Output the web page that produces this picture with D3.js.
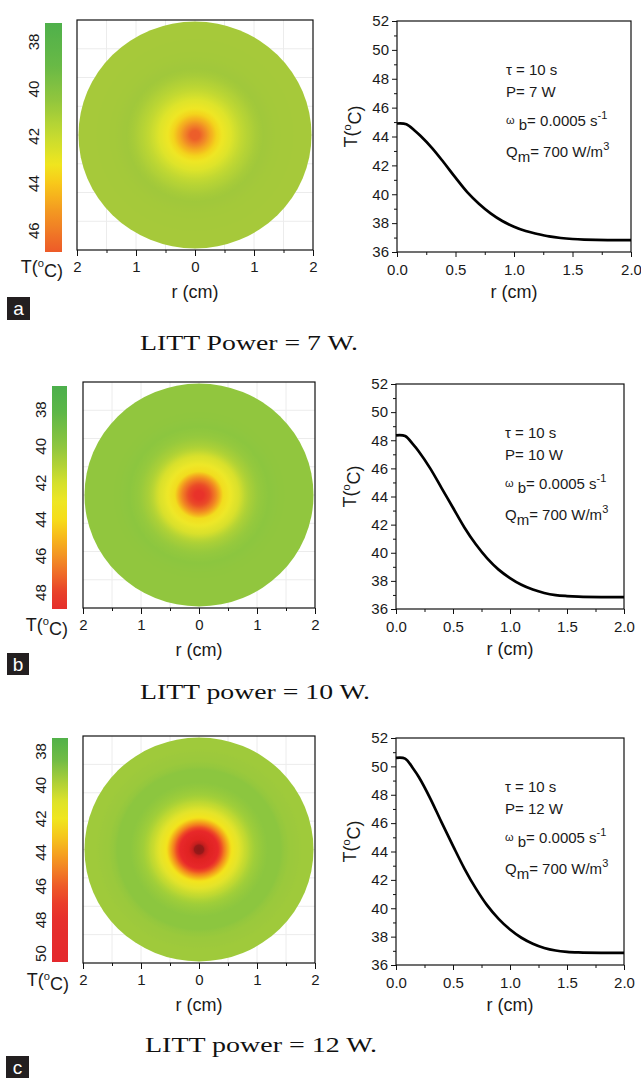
<!DOCTYPE html>
<html><head><meta charset="utf-8">
<script src="https://cdn.jsdelivr.net/npm/d3@7"></script>
<style>
body{margin:0;background:#fff}
svg{display:block}
text{font-family:"Liberation Sans",Arial,sans-serif;fill:#1a1a1a}
text.cap{font-family:"Liberation Serif","Times New Roman",serif;fill:#111}
</style>
</head><body>
<svg id="chart" width="641" height="1078"></svg>
<script>
// ---------- data ----------
const radiusCm = [0,0.08,0.15,0.2,0.3,0.4,0.5,0.6,0.7,0.8,0.9,1.0,1.1,1.2,1.3,1.4,1.5,1.6,1.8,2.0];
const tempA = [44.9,44.85,44.42,44.05,43.2,42.2,41.15,40.15,39.35,38.68,38.15,37.75,37.45,37.25,37.08,36.97,36.9,36.86,36.82,36.82];
const tempB = [48.35,48.3,47.7,47.2,46.0,44.6,43.2,41.8,40.6,39.6,38.8,38.2,37.72,37.38,37.14,36.99,36.92,36.88,36.85,36.85];
const tempC = [50.6,50.55,49.85,49.25,47.75,46.05,44.4,42.8,41.4,40.2,39.25,38.5,37.92,37.5,37.2,37.02,36.93,36.89,36.86,36.86];
const powerW = [7,10,12];
const captions = ["LITT Power = 7 W.","LITT power = 10 W.","LITT power = 12 W."];
const panelLetters = ["a","b","c"];
const lineXTicks = [0,0.5,1,1.5,2];
const lineXMinor = [0.25,0.75,1.25,1.75];
const lineYTicks = [36,38,40,42,44,46,48,50,52];
const lineYMinor = [37,39,41,43,45,47,49,51];
const mapXTicks = [-2,-1,0,1,2];
const mapXMinor = [-1.5,-0.5,0.5,1.5];
const mapGrid = [-1.5,-1,-0.5,0,0.5,1,1.5];
const barTicksA = [38,40,42,44,46];
const barTicksB = [38,40,42,44,46,48];
const barTicksC = [38,40,42,44,46,48,50];
const barRangeA = [37.2,46.9];
const barRangeB = [36.7,48.9];
const barRangeC = [37.2,50.5];

// ---------- colour maps (style) ----------
const barStopsA = [37.2,39,40.5,42,43.2,44,45,46,46.9];
const barColsA = ["#4fb04b","#68b946","#92c63d","#c6db30","#f0e61e","#f8c81a","#f49f20","#f07b26","#ed5a28"];
const barStopsB = [36.7,38,40,41,42,43,44,45,46,47,48,48.9];
const barColsB = ["#4caf4c","#5ab648","#8ec63e","#b0d236","#d4e02c","#eee624","#f6dd1a","#f7b81c","#f39324","#ef6a28","#e8402a","#e52e2c"];
const barStopsC = [37.2,38.5,40,41,42,43,44,45,46,47,48,50.5];
const barColsC = ["#52b14a","#70bc44","#b5d236","#dfe328","#f0e61e","#f5c81c","#f5a41f","#f28025","#ee5a28","#ea3e2a","#e62f2c","#e4282c"];
const diskStopsA = [36.8,37.3,38,39,40,41.5,42.5,43.5,44.3,44.9];
const diskColsA = ["#a6c93a","#a0c83b","#b2d136","#c8db30","#dee42a","#efe624","#f3d41c","#f4ab20","#f08228","#ec5c2a"];
const diskStopsB = [36.8,37.3,38,39.2,40.6,42.5,44.3,45.3,46.3,47.4,48.4];
const diskColsB = ["#92c63e","#8cc63f","#96c93d","#b0d236","#d8e02c","#eee828","#f2dc1e","#f4a81e","#f07a24","#ea4a28","#e8302a"];
const diskStopsC = [36.85,37.0,37.5,38.7,40,41.5,43.3,44.2,45.3,46.2,47.2,49.5,50.3,50.6];
const diskColsC = ["#a0ca3b","#8cc63f","#8cc63f","#a0ce39","#c4da30","#e4e42a","#f4e41c","#f4b81a","#f3801f","#ee4a26","#e8282a","#e02222","#c41e1e","#8e1818"];

// ---------- layout ----------
const layouts = [
  {mapX:[77,313],mapY:[250,20],barX:45,barW:17,barY:[23,252],lineX:[397,631],lineY:[252,21],capX:140,capY:350,capLen:218,box:[7,297,23,23]},
  {mapX:[83,315],mapY:[608,382],barX:52,barW:15,barY:[386,609],lineX:[396,624],lineY:[609,384],capX:140,capY:699,capLen:230,box:[7,653,22,22]},
  {mapX:[83,315],mapY:[963,736],barX:52,barW:16,barY:[738,962],lineX:[396,624],lineY:[965,738],capX:145,capY:1052,capLen:232,box:[6,1056,23,22]}
];
const temps = [tempA,tempB,tempC];
const barTicks = [barTicksA,barTicksB,barTicksC];
const barRanges = [barRangeA,barRangeB,barRangeC];
const barStops = [[barStopsA,barColsA],[barStopsB,barColsB],[barStopsC,barColsC]];
const diskStops = [[diskStopsA,diskColsA],[diskStopsB,diskColsB],[diskStopsC,diskColsC]];

const svg = d3.select("#chart");
const defs = svg.append("defs");

function tLabel(sel){
  sel.append("tspan").text("T(");
  sel.append("tspan").text("o").attr("font-size","0.62em").attr("dy","-0.55em");
  sel.append("tspan").text("C)").attr("dy","0.55em");
}

layouts.forEach((L,i)=>{
  const T = temps[i];
  const g = svg.append("g");
  // ===== heat map =====
  const mx = d3.scaleLinear().domain([-2,2]).range(L.mapX);
  const my = d3.scaleLinear().domain([-2,2]).range(L.mapY);
  g.append("g").selectAll("line").data(mapGrid).join("line")
    .attr("x1",d=>mx(d)).attr("x2",d=>mx(d)).attr("y1",my(-2)).attr("y2",my(2))
    .attr("stroke","#ececec").attr("stroke-width",1);
  g.append("g").selectAll("line").data(mapGrid).join("line")
    .attr("y1",d=>my(d)).attr("y2",d=>my(d)).attr("x1",mx(-2)).attr("x2",mx(2))
    .attr("stroke","#ececec").attr("stroke-width",1);
  const rToT = d3.scaleLinear().domain(radiusCm).range(T);
  const diskColor = d3.scaleLinear().domain(diskStops[i][0]).range(diskStops[i][1]).interpolate(d3.interpolateRgb).clamp(true);
  const rg = defs.append("radialGradient").attr("id","disk"+i).attr("cx","50%").attr("cy","50%").attr("r","50%");
  d3.range(0,2.0001,0.02).forEach(r=>{
    rg.append("stop").attr("offset",(r/2*100)+"%").attr("stop-color",diskColor(rToT(Math.min(r,2))));
  });
  g.append("ellipse").attr("cx",mx(0)).attr("cy",my(0))
    .attr("rx",(mx(2)-mx(-2))/2-1.5).attr("ry",(my(-2)-my(2))/2-1.5)
    .attr("fill","url(#disk"+i+")");
  g.append("rect").attr("x",mx(-2)).attr("y",my(2)).attr("width",mx(2)-mx(-2)).attr("height",my(-2)-my(2))
    .attr("fill","none").attr("stroke","#111").attr("stroke-width",1.2);
  const axM = g.append("g").attr("transform",`translate(0,${my(-2)})`)
    .call(d3.axisBottom(mx).tickValues(mapXTicks).tickSize(6).tickPadding(5).tickFormat(d=>Math.abs(d)));
  axM.select(".domain").remove();
  axM.selectAll("text").attr("font-size",15).attr("fill","#1a1a1a");
  axM.selectAll("line").attr("stroke","#111");
  const axMm = g.append("g").attr("transform",`translate(0,${my(-2)})`)
    .call(d3.axisBottom(mx).tickValues(mapXMinor).tickSize(3).tickFormat(""));
  axMm.select(".domain").remove();
  axMm.selectAll("line").attr("stroke","#111");
  g.append("text").attr("x",mx(0)).attr("y",my(-2)+48).attr("text-anchor","middle").attr("font-size",18).text("r (cm)");

  // ===== colour bar =====
  const by = d3.scaleLinear().domain(barRanges[i]).range(L.barY);
  const barColor = d3.scaleLinear().domain(barStops[i][0]).range(barStops[i][1]).clamp(true);
  const lg = defs.append("linearGradient").attr("id","bar"+i).attr("x1",0).attr("x2",0).attr("y1",0).attr("y2",1);
  const [b0,b1] = barRanges[i];
  d3.range(0,1.0001,0.02).forEach(f=>{
    lg.append("stop").attr("offset",(f*100)+"%").attr("stop-color",barColor(b0+(b1-b0)*f));
  });
  g.append("rect").attr("x",L.barX).attr("y",L.barY[0]).attr("width",L.barW).attr("height",L.barY[1]-L.barY[0])
    .attr("fill","url(#bar"+i+")");
  g.append("g").selectAll("text").data(barTicks[i]).join("text")
    .attr("transform",d=>`translate(${L.barX-11},${by(d)}) rotate(-90)`)
    .attr("text-anchor","middle").attr("dy","0.35em").attr("font-size",15).text(d=>d);
  g.append("text").attr("x",L.barX+L.barW+1).attr("y",my(-2)+23).attr("text-anchor","end").attr("font-size",18).call(tLabel);

  // ===== line chart =====
  const lx = d3.scaleLinear().domain([0,2]).range(L.lineX);
  const ly = d3.scaleLinear().domain([36,52]).range(L.lineY);
  const axX = g.append("g").attr("transform",`translate(0,${ly(36)})`)
    .call(d3.axisBottom(lx).tickValues(lineXTicks).tickSize(5).tickPadding(7).tickFormat(d3.format(".1f")));
  const axXm = g.append("g").attr("transform",`translate(0,${ly(36)})`)
    .call(d3.axisBottom(lx).tickValues(lineXMinor).tickSize(3).tickFormat(""));
  const axY = g.append("g").attr("transform",`translate(${lx(0)},0)`)
    .call(d3.axisLeft(ly).tickValues(lineYTicks).tickSize(5).tickPadding(3));
  const axYm = g.append("g").attr("transform",`translate(${lx(0)},0)`)
    .call(d3.axisLeft(ly).tickValues(lineYMinor).tickSize(3).tickFormat(""));
  [axX,axXm,axY,axYm].forEach(a=>{
    a.select(".domain").remove();
    a.selectAll("line").attr("stroke","#111");
    a.selectAll("text").attr("font-size",15).attr("fill","#1a1a1a");
  });
  g.append("rect").attr("x",lx(0)).attr("y",ly(52)).attr("width",lx(2)-lx(0)).attr("height",ly(36)-ly(52))
    .attr("fill","none").attr("stroke","#111").attr("stroke-width",1.2);
  const line = d3.line().x((d,k)=>lx(radiusCm[k])).y(d=>ly(d)).curve(d3.curveCatmullRom.alpha(0.5));
  g.append("path").datum(T).attr("d",line).attr("fill","none").attr("stroke","#000").attr("stroke-width",2.7).attr("stroke-linejoin","round");
  g.append("text").attr("x",(lx(0)+lx(2))/2).attr("y",ly(36)+46).attr("text-anchor","middle").attr("font-size",18).text("r (cm)");
  g.append("text").attr("transform",`translate(${lx(0)-40},${(ly(36)+ly(52))/2-10}) rotate(-90)`)
    .attr("text-anchor","middle").attr("font-size",18).call(tLabel);
  const ax0 = lx(0)+109, ay0 = ly(52);
  g.append("text").attr("x",ax0).attr("y",ay0+54).attr("font-size",15).text("\u03c4 = 10 s");
  g.append("text").attr("x",ax0).attr("y",ay0+76).attr("font-size",15).text("P= "+powerW[i]+" W");
  const w = g.append("text").attr("x",ax0).attr("y",ay0+105).attr("font-size",15);
  w.append("tspan").text("\u03c9").attr("font-size",11).attr("dy",-2);
  w.append("tspan").text(" b").attr("dy",6);
  w.append("tspan").text("= 0.0005 s").attr("dy",-4);
  w.append("tspan").text("-1").attr("font-size",11).attr("dy",-7);
  const q = g.append("text").attr("x",ax0).attr("y",ay0+136).attr("font-size",15);
  q.append("tspan").text("Q");
  q.append("tspan").text("m").attr("dy",5);
  q.append("tspan").text("= 700 W/m").attr("dy",-5);
  q.append("tspan").text("3").attr("font-size",11).attr("dy",-7);

  // ===== caption & panel letter =====
  g.append("text").attr("class","cap").attr("x",L.capX).attr("y",L.capY).attr("font-size",22)
    .attr("textLength",L.capLen).attr("lengthAdjust","spacingAndGlyphs").text(captions[i]);
  g.append("rect").attr("x",L.box[0]).attr("y",L.box[1]).attr("width",L.box[2]).attr("height",L.box[3]).attr("fill","#231f20");
  g.append("text").attr("x",L.box[0]+L.box[2]/2).attr("y",L.box[1]+L.box[3]/2).attr("dy","0.36em")
    .attr("text-anchor","middle").attr("font-size",19).style("fill","#fff").text(panelLetters[i]);
});
</script>
</body></html>
